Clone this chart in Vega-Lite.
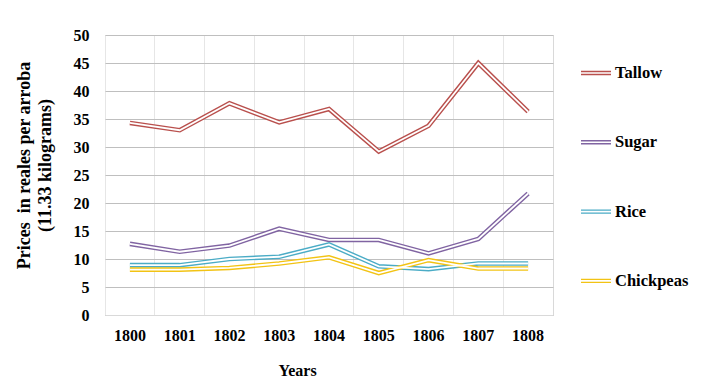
{
  "$schema": "https://vega.github.io/schema/vega-lite/v6.json",
  "width": 448,
  "height": 280,
  "autosize": {"type": "none"},
  "padding": {"left": 105, "top": 35, "right": 154, "bottom": 76},
  "background": "white",
  "config": {
    "font": "Times New Roman",
    "view": {"stroke": "#d9d9d9", "strokeWidth": 1},
    "axis": {"labelFont": "Times New Roman", "titleFont": "Times New Roman", "labelFontWeight": "bold", "titleFontWeight": "bold", "labelColor": "#000000", "titleColor": "#000000"},
    "legend": {"labelFont": "Times New Roman", "labelFontWeight": "bold", "labelColor": "#000000"}
  },
  "data": {
    "values": [
      {"year": "1800", "commodity": "Tallow", "price": 34.3},
      {"year": "1801", "commodity": "Tallow", "price": 33.0},
      {"year": "1802", "commodity": "Tallow", "price": 37.8},
      {"year": "1803", "commodity": "Tallow", "price": 34.4},
      {"year": "1804", "commodity": "Tallow", "price": 36.8},
      {"year": "1805", "commodity": "Tallow", "price": 29.2},
      {"year": "1806", "commodity": "Tallow", "price": 33.8},
      {"year": "1807", "commodity": "Tallow", "price": 45.0},
      {"year": "1808", "commodity": "Tallow", "price": 36.3},
      {"year": "1800", "commodity": "Sugar", "price": 12.7},
      {"year": "1801", "commodity": "Sugar", "price": 11.3},
      {"year": "1802", "commodity": "Sugar", "price": 12.4},
      {"year": "1803", "commodity": "Sugar", "price": 15.4},
      {"year": "1804", "commodity": "Sugar", "price": 13.4},
      {"year": "1805", "commodity": "Sugar", "price": 13.4},
      {"year": "1806", "commodity": "Sugar", "price": 11.0},
      {"year": "1807", "commodity": "Sugar", "price": 13.6},
      {"year": "1808", "commodity": "Sugar", "price": 21.7},
      {"year": "1800", "commodity": "Rice", "price": 8.9},
      {"year": "1801", "commodity": "Rice", "price": 8.9},
      {"year": "1802", "commodity": "Rice", "price": 10.0},
      {"year": "1803", "commodity": "Rice", "price": 10.4},
      {"year": "1804", "commodity": "Rice", "price": 12.6},
      {"year": "1805", "commodity": "Rice", "price": 8.7},
      {"year": "1806", "commodity": "Rice", "price": 8.2},
      {"year": "1807", "commodity": "Rice", "price": 9.2},
      {"year": "1808", "commodity": "Rice", "price": 9.2},
      {"year": "1800", "commodity": "Chickpeas", "price": 8.1},
      {"year": "1801", "commodity": "Chickpeas", "price": 8.1},
      {"year": "1802", "commodity": "Chickpeas", "price": 8.4},
      {"year": "1803", "commodity": "Chickpeas", "price": 9.2},
      {"year": "1804", "commodity": "Chickpeas", "price": 10.3},
      {"year": "1805", "commodity": "Chickpeas", "price": 7.5},
      {"year": "1806", "commodity": "Chickpeas", "price": 9.8},
      {"year": "1807", "commodity": "Chickpeas", "price": 8.3},
      {"year": "1808", "commodity": "Chickpeas", "price": 8.3}
    ]
  },
  "encoding": {
    "x": {
      "field": "year", "type": "ordinal",
      "scale": {"type": "band", "paddingInner": 0, "paddingOuter": 0},
      "axis": {"title": "Years", "labelAngle": 0, "labelFontSize": 16, "titleFontSize": 16, "labelPadding": 12, "titlePadding": 19, "titleX": 192, "ticks": false, "domainColor": "#d9d9d9", "grid": true, "gridColor": "#e6e6e6", "bandPosition": 0}
    },
    "y": {
      "field": "price", "type": "quantitative",
      "scale": {"domain": [0, 50]},
      "axis": {"title": ["Prices\u00a0 in reales per arroba", "(11.33 kilograms)"], "values": [0, 5, 10, 15, 20, 25, 30, 35, 40, 45, 50], "labelFontSize": 16, "titleFontSize": 18, "labelPadding": 16, "titlePadding": 19, "titleY": 130, "ticks": false, "domain": false, "gridColor": "#bfbfbf", "titleLineHeight": 21}
    }
  },
  "layer": [
    {
      "mark": {"type": "line", "strokeWidth": 4.6},
      "encoding": {
        "color": {
          "field": "commodity", "type": "nominal",
          "scale": {"domain": ["Tallow", "Sugar", "Rice", "Chickpeas"], "range": ["#b9504d", "#8064a2", "#4bacc6", "#f2c314"]},
          "legend": {"title": null, "orient": "none", "legendX": 475, "legendY": 22, "symbolType": "M-1,-0.1H1M-1,0.1H1", "symbolSize": 900, "symbolStrokeWidth": 1.4, "symbolFillColor": "transparent", "labelFontSize": 16.5, "rowPadding": 44.3, "labelOffset": 3}
        }
      }
    },
    {
      "mark": {"type": "line", "strokeWidth": 1.8, "color": "white"},
      "encoding": {"detail": {"field": "commodity", "type": "nominal"}}
    }
  ]
}
